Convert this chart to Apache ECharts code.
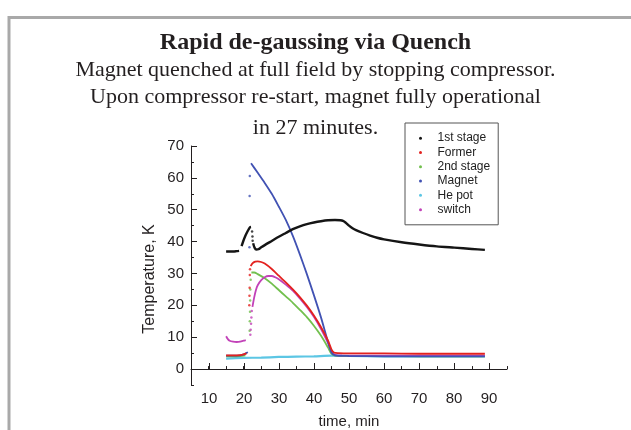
<!DOCTYPE html>
<html>
<head>
<meta charset="utf-8">
<script src="https://cdn.jsdelivr.net/npm/echarts@6/dist/echarts.min.js"></script>
<style>html,body{margin:0;padding:0;background:#fff}#c{width:631px;height:430px}</style>
</head>
<body>
<div id="c"></div>
<script>
// ---- data ----
const seriesNames = ['1st stage', 'Former', '2nd stage', 'Magnet', 'He pot', 'switch'];
const xTickLabels = [10, 20, 30, 40, 50, 60, 70, 80, 90];
const yTickLabels = [0, 10, 20, 30, 40, 50, 60, 70];

const stage1Time = [15, 16, 17, 18, 18.7, 19.0, 19.4, 19.9, 20.4, 20.9, 21.4, 21.8, 22.1, 22.35, 22.7, 23.1, 23.6, 24.2, 25, 26, 28, 30, 32, 34, 36, 38, 40, 42, 44, 46, 47.5, 48.3, 49, 50, 51, 52, 54, 56, 58, 60, 65, 70, 75, 80, 85, 88.7];
const stage1Vals = [36.9, 36.9, 36.9, 37.0, 37.1, null, 38.6, 40.2, 41.6, 42.8, 43.8, 44.5, 44.6, null, 39.5, 38.1, 37.5, 37.6, 38.2, 38.9, 40.2, 41.5, 42.7, 43.9, 44.8, 45.5, 46.0, 46.4, 46.7, 46.8, 46.7, 46.5, 46.0, 45.0, 44.2, 43.6, 42.7, 41.9, 41.2, 40.7, 39.8, 39.1, 38.5, 38.1, 37.7, 37.4];
const stage1JumpTime = [22.4, 22.5, 22.55];
const stage1JumpVals = [43.2, 41.6, 40.3];

const formerTime = [15, 17, 19, 20, 20.8, 21.3, 22.0, 22.5, 23.3, 24, 25, 26, 28, 30, 32, 34, 36, 38, 40, 42, 44, 45, 45.7, 47, 50, 60, 70, 80, 88.7];
const formerVals = [4.3, 4.3, 4.4, 4.6, 4.9, null, 32.3, 33.2, 33.7, 33.8, 33.6, 33.1, 31.4, 29.3, 27.2, 25.0, 22.6, 19.9, 16.8, 13.2, 9.0, 6.2, 5.2, 5.0, 4.9, 4.9, 4.8, 4.8, 4.8];
const formerJumpTime = [21.6, 21.65, 21.7, 21.75, 21.8];
const formerJumpVals = [20.0, 23.0, 25.5, 29.5, 31.3];

const stage2Time = [15, 17, 19, 20.5, 21.0, 22.2, 23, 24, 26, 28, 30, 32, 34, 36, 38, 40, 42, 44, 45, 46, 50, 60, 70, 80, 88.7];
const stage2Vals = [4.0, 4.0, 4.1, 4.3, null, 30.3, 30.3, 29.8, 28.5, 26.8, 24.8, 22.8, 20.8, 18.6, 16.3, 13.6, 10.5, 6.8, 4.8, 4.2, 4.1, 4.1, 4.0, 4.0, 4.0];
const stage2JumpTime = [21.7, 21.75, 21.8, 21.85, 21.9, 22.0];
const stage2JumpVals = [12.0, 15.0, 18.0, 21.5, 25.0, 28.0];

const magnetTime = [15, 17, 19, 20, 20.7, 21.2, 21.5, 22.1, 24, 26, 28, 30, 32, 34, 36, 38, 40, 42, 44, 45, 46, 50, 60, 70, 80, 88.7];
const magnetVals = [4.2, 4.2, 4.3, 4.6, 5.0, 5.3, null, 64.6, 61.6, 58.4, 55.0, 51.0, 46.8, 41.8, 36.0, 29.8, 23.2, 16.3, 8.6, 5.2, 4.3, 4.1, 4.0, 4.0, 4.0, 4.0];
const magnetJumpTime = [21.65, 21.7, 21.75];
const magnetJumpVals = [38.2, 54.3, 60.6];

const hePotTime = [15, 20, 25, 30, 35, 40, 45, 50, 60, 70, 80, 88.7];
const hePotVals = [3.3, 3.5, 3.6, 3.8, 3.9, 4.0, 4.2, 4.1, 4.0, 4.0, 4.0, 4.0];

const switchTime = [15, 15.5, 16, 17, 18, 19, 20, 20.6, 21.0, 22.5, 23, 23.5, 24, 25, 26, 27, 28, 29, 30, 32, 34, 36, 38, 40, 42, 44, 45, 46, 48, 60, 70, 80, 88.7];
const switchVals = [10.3, 9.4, 8.9, 8.6, 8.5, 8.6, 8.9, 9.1, null, 19.5, 22.5, 24.8, 26.3, 27.9, 28.8, 29.2, 29.2, 28.8, 28.2, 26.5, 24.6, 22.2, 19.5, 16.4, 12.6, 8.2, 5.7, 4.5, 4.3, 4.2, 4.2, 4.2, 4.2];
const switchJumpTime = [21.9, 22.0, 22.1, 22.2, 22.3];
const switchJumpVals = [10.8, 12.3, 14.2, 16.2, 18.2];

// ---- build ----
function pairs(ts, vs) { return ts.map((t, i) => [t, vs[i] === null ? '-' : vs[i]]); }
const colors = {
  '1st stage': '#151515', 'Former': '#e3221f', '2nd stage': '#72c04e',
  'Magnet': '#4152b3', 'He pot': '#5cc6e4', 'switch': '#c242b8'
};
function lineSeries(name, ts, vs, w) {
  return { type: 'line', name: name, data: pairs(ts, vs), showSymbol: false, symbol: 'none',
    smooth: 0.25, color: colors[name], lineStyle: { width: w, color: colors[name] }, animation: false };
}
function jumpSeries(name, ts, vs) {
  return { type: 'scatter', name: name, data: pairs(ts, vs), symbol: 'circle', symbolSize: 2.5,
    itemStyle: { color: colors[name] }, animation: false };
}
const axisColor = '#231f20';
const font = 'Liberation Sans, Arial, sans-serif';
const serif = 'Liberation Serif, Times New Roman, serif';

const chart = echarts.init(document.getElementById('c'), null, { renderer: 'canvas' });
chart.setOption({
  backgroundColor: '#fff',
  animation: false,
  graphic: [{ type: 'rect', shape: { x: 9, y: 17.5, width: 700, height: 500 },
    style: { fill: 'none', stroke: '#a9a9a9', lineWidth: 3 }, silent: true }],
  title: [
    { text: 'Rapid de-gaussing via Quench', left: 'center', top: 31, padding: 0,
      textStyle: { fontFamily: serif, fontWeight: 'bold', fontSize: 24, color: axisColor } },
    { text: 'Magnet quenched at full field by stopping compressor.', left: 'center', top: 59, padding: 0,
      textStyle: { fontFamily: serif, fontWeight: 'normal', fontSize: 22, color: axisColor } },
    { text: 'Upon compressor re-start, magnet fully operational', left: 'center', top: 86, padding: 0,
      textStyle: { fontFamily: serif, fontWeight: 'normal', fontSize: 22, color: axisColor } },
    { text: 'in 27 minutes.', left: 'center', top: 117, padding: 0,
      textStyle: { fontFamily: serif, fontWeight: 'normal', fontSize: 22, color: axisColor } }
  ],
  legend: {
    orient: 'vertical', left: 405, top: 123, data: seriesNames, icon: 'circle',
    itemWidth: 24, itemHeight: 3, itemGap: 0, padding: [8, 8, 8, 14],
    borderColor: '#555', borderWidth: 1, backgroundColor: '#fff',
    textStyle: { fontFamily: font, fontSize: 12, color: '#222', lineHeight: 14.3 }
  },
  grid: [
    { left: 191, right: 124, top: 146, bottom: 45, outerBoundsMode: 'none', containLabel: false },
    { left: 209, right: 142, top: 146, bottom: 61, outerBoundsMode: 'none', containLabel: false }
  ],
  xAxis: [
    { gridIndex: 0, type: 'value', min: 5, max: 95, interval: 5,
      axisLine: { show: true, lineStyle: { color: axisColor, width: 1 } },
      axisTick: { show: true, inside: true, length: 3, lineStyle: { color: axisColor } },
      axisLabel: { show: false }, splitLine: { show: false },
      name: 'time, min', nameLocation: 'middle', nameGap: 29,
      nameTextStyle: { fontFamily: font, fontSize: 15, color: axisColor } },
    { gridIndex: 1, type: 'value', min: xTickLabels[0], max: xTickLabels[xTickLabels.length - 1], interval: 10, offset: 16,
      axisLine: { show: false },
      axisTick: { show: true, inside: true, length: 6, lineStyle: { color: axisColor } },
      axisLabel: { show: true, fontFamily: font, fontSize: 15, color: axisColor, margin: 6 },
      splitLine: { show: false } }
  ],
  yAxis: [
    { gridIndex: 0, type: 'value', min: -5, max: 70, interval: 5,
      axisLine: { show: true, lineStyle: { color: axisColor, width: 1 } },
      axisTick: { show: true, inside: true, length: 3, lineStyle: { color: axisColor } },
      axisLabel: { show: false }, splitLine: { show: false },
      name: 'Temperature, K', nameLocation: 'middle', nameGap: 33,
      nameTextStyle: { fontFamily: font, fontSize: 16, color: axisColor, padding: [0, 27, 0, 0] } },
    { gridIndex: 1, type: 'value', min: yTickLabels[0], max: yTickLabels[yTickLabels.length - 1], interval: 10, offset: 18,
      axisLine: { show: false },
      axisTick: { show: true, inside: true, length: 6, lineStyle: { color: axisColor } },
      axisLabel: { show: true, fontFamily: font, fontSize: 15, color: axisColor, margin: 7 },
      splitLine: { show: false } }
  ],
  series: [
    lineSeries('He pot', hePotTime, hePotVals, 2.2),
    lineSeries('2nd stage', stage2Time, stage2Vals, 1.8),
    jumpSeries('2nd stage', stage2JumpTime, stage2JumpVals),
    lineSeries('switch', switchTime, switchVals, 1.8),
    jumpSeries('switch', switchJumpTime, switchJumpVals),
    lineSeries('Magnet', magnetTime, magnetVals, 1.8),
    jumpSeries('Magnet', magnetJumpTime, magnetJumpVals),
    lineSeries('Former', formerTime, formerVals, 1.8),
    jumpSeries('Former', formerJumpTime, formerJumpVals),
    lineSeries('1st stage', stage1Time, stage1Vals, 2.4),
    jumpSeries('1st stage', stage1JumpTime, stage1JumpVals)
  ]
});
</script>
</body>
</html>
